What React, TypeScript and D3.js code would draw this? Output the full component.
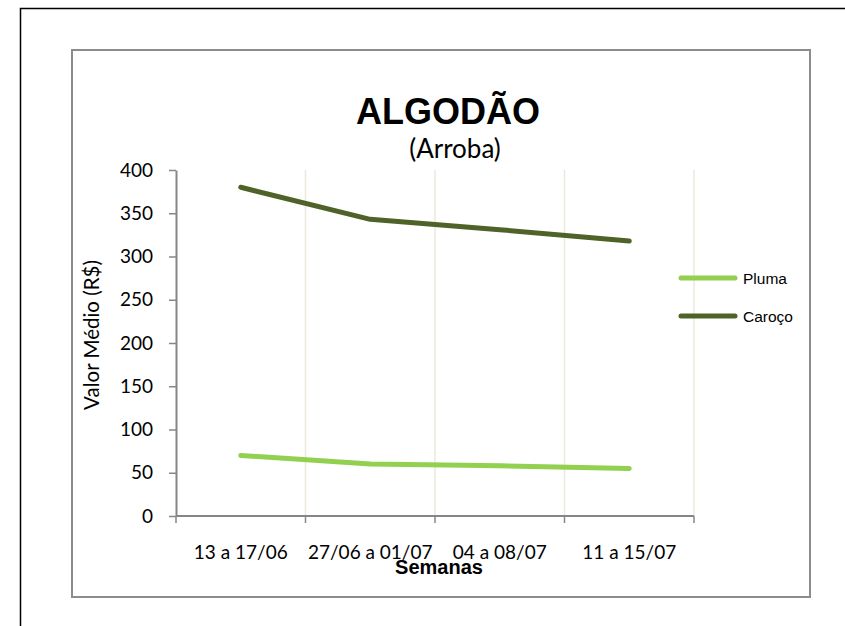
import React, { useEffect, useRef } from 'react';
import * as d3 from 'd3';

const categories = ['13 a 17/06', '27/06 a 01/07', '04 a 08/07', '11 a 15/07'];
const plumaValues = [70, 60, 58, 55];
const carocoValues = [380, 343, 331, 318];
const yTicks = [0, 50, 100, 150, 200, 250, 300, 350, 400];

const seriesNames = ['Pluma', 'Caroço'];
const seriesColors = ['#92d050', '#4f6228'];

const W = 845;
const H = 626;

const App: React.FC = () => {
  const svgRef = useRef<SVGSVGElement>(null);

  useEffect(() => {
    if (!svgRef.current) return;
    const svg = d3.select(svgRef.current);
    svg.selectAll('*').remove();

    // frames
    svg.append('rect')
      .attr('x', 20.5).attr('y', 8.5)
      .attr('width', 900).attr('height', 700)
      .attr('fill', 'none').attr('stroke', '#000').attr('stroke-width', 1.5);

    svg.append('rect')
      .attr('x', 72).attr('y', 50)
      .attr('width', 738).attr('height', 547)
      .attr('fill', '#fff').attr('stroke', '#8c8c8c').attr('stroke-width', 2);

    const left = 176, right = 694, top = 170, bottom = 516;

    const x = d3.scaleBand().domain(categories).range([left, right]).padding(0);
    const y = d3.scaleLinear().domain([0, 400]).range([bottom, top]);

    // vertical gridlines at category boundaries
    const bounds = categories.map(c => (x(c) || 0) + x.bandwidth());
    svg.append('g').selectAll('line')
      .data(bounds)
      .join('line')
      .attr('x1', d => d).attr('x2', d => d)
      .attr('y1', top).attr('y2', bottom)
      .attr('stroke', '#ece8da').attr('stroke-width', 1.5);

    // y axis
    const yAxis = svg.append('g')
      .attr('transform', `translate(${left},0)`)
      .call(d3.axisLeft(y).tickValues(yTicks).tickSize(7).tickPadding(16).tickSizeOuter(0));
    yAxis.select('.domain').attr('stroke', '#868686').attr('stroke-width', 2);
    yAxis.selectAll('.tick line').attr('stroke', '#868686').attr('stroke-width', 1.5);
    yAxis.selectAll('.tick text')
      .attr('fill', '#000')
      .style('font-family', 'Lato, "Open Sans", sans-serif')
      .style('font-size', '19px');

    // x axis
    const xAxisG = svg.append('g').attr('transform', `translate(0,${bottom})`);
    xAxisG.append('line')
      .attr('x1', left).attr('x2', right)
      .attr('stroke', '#868686').attr('stroke-width', 2);
    xAxisG.selectAll('line.tk')
      .data([left, ...bounds])
      .join('line')
      .attr('class', 'tk')
      .attr('x1', d => d).attr('x2', d => d)
      .attr('y1', 0).attr('y2', 7)
      .attr('stroke', '#868686').attr('stroke-width', 1.5);
    xAxisG.selectAll('text')
      .data(categories)
      .join('text')
      .attr('x', d => (x(d) || 0) + x.bandwidth() / 2)
      .attr('y', 43)
      .attr('text-anchor', 'middle')
      .style('font-family', 'Lato, "Open Sans", sans-serif')
      .style('font-size', '19px')
      .text(d => d);

    // lines
    const line = d3.line<number>()
      .x((_, i) => (x(categories[i]) || 0) + x.bandwidth() / 2)
      .y(d => y(d));

    [plumaValues, carocoValues].forEach((vals, i) => {
      svg.append('path')
        .datum(vals)
        .attr('d', line)
        .attr('fill', 'none')
        .attr('stroke', seriesColors[i])
        .attr('stroke-width', 5)
        .attr('stroke-linecap', 'round')
        .attr('stroke-linejoin', 'round');
    });

    // legend
    seriesNames.forEach((name, i) => {
      const ly = 278 + i * 38;
      svg.append('line')
        .attr('x1', 681).attr('x2', 735)
        .attr('y1', ly).attr('y2', ly)
        .attr('stroke', seriesColors[i])
        .attr('stroke-width', 5)
        .attr('stroke-linecap', 'round');
      svg.append('text')
        .attr('x', 743).attr('y', ly + 6)
        .style('font-family', '"Liberation Sans", Arial, sans-serif')
        .style('font-size', '15.5px')
        .text(name);
    });

    // titles
    svg.append('text')
      .attr('x', 448).attr('y', 124)
      .attr('text-anchor', 'middle')
      .style('font-family', '"Liberation Sans", Arial, sans-serif')
      .style('font-size', '36px')
      .style('font-weight', 'bold')
      .text('ALGODÃO');

    svg.append('text')
      .attr('x', 455).attr('y', 158)
      .attr('text-anchor', 'middle')
      .style('font-family', 'Lato, "Open Sans", sans-serif')
      .style('font-size', '26px')
      .text('(Arroba)');

    svg.append('text')
      .attr('transform', `translate(99,335) rotate(-90)`)
      .attr('text-anchor', 'middle')
      .style('font-family', 'Lato, "Open Sans", sans-serif')
      .style('font-size', '20.5px')
      .text('Valor Médio (R$)');

    svg.append('text')
      .attr('x', 439).attr('y', 574)
      .attr('text-anchor', 'middle')
      .style('font-family', '"Liberation Sans", Arial, sans-serif')
      .style('font-size', '20px')
      .style('font-weight', 'bold')
      .text('Semanas');
  }, []);

  return (
    <svg
      ref={svgRef}
      width={W}
      height={H}
      style={{ position: 'absolute', left: 0, top: 0, background: '#fff' }}
    />
  );
};

export default App;
